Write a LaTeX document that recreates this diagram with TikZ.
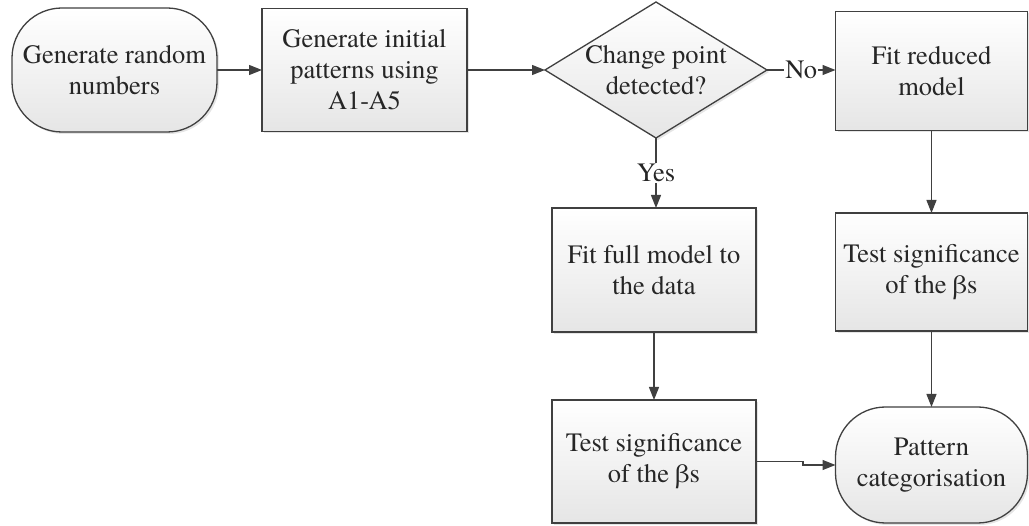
\documentclass[tikz,border=0pt]{standalone}
\usepackage{fontspec}
\IfFontExistsTF{texgyretermes-regular.otf}
  {\setmainfont{texgyretermes-regular.otf}}
  {\setmainfont{Liberation Serif}}
\newfontfamily\grkfont{Liberation Serif}
\newcommand{\mybeta}{\iffontchar\font"03B2 β\else{\grkfont β}\fi}
\usetikzlibrary{arrows.meta,shapes.geometric,shadows}
\definecolor{linec}{HTML}{404040}
\definecolor{textc}{HTML}{262626}
\begin{document}
\begin{tikzpicture}[x=1pt,y=-1pt,
  base/.style={draw=linec, line width=1.3pt, inner sep=0pt, outer sep=0pt,
    top color=white, bottom color=black!10, text=textc, align=center,
    font=\fontsize{26.5pt}{31pt}\selectfont,
    drop shadow={shadow xshift=2pt, shadow yshift=-2pt, fill=black!20, opacity=0.5}},
  procbox/.style={base, rectangle},
  termbox/.style={base, rectangle, rounded corners=50pt},
  decbox/.style={base, diamond},
  conn/.style={draw=linec, line width=1.3pt, -{Triangle[length=13pt,width=10pt]}},
  lbl/.style={fill=white, text=textc, inner sep=1pt, font=\fontsize{26.5pt}{31pt}\selectfont}
]
\useasboundingbox (0,0) rectangle (1029,526);

\node[termbox, minimum width=205pt, minimum height=124pt] (t1) at (114.5,70) {Generate random\\numbers};
\node[procbox, minimum width=205pt, minimum height=123pt] (b1) at (364.5,70) {Generate initial\\patterns using\\A1-A5};
\node[decbox, minimum width=222pt, minimum height=136pt] (d) at (656,70) {};
\node[text=textc, align=center, font=\fontsize{26.5pt}{31pt}\selectfont] (dt) at (d.center) {Change point\\detected?};
\node[procbox, minimum width=192pt, minimum height=119pt] (b2) at (931.5,71) {Fit reduced\\model};
\node[procbox, minimum width=204pt, minimum height=124pt] (b4) at (654,270) {Fit full model to\\the data};
\node[procbox, minimum width=192pt, minimum height=118pt] (b3) at (931.5,272) {Test significance\\of the \mybeta s};
\node[procbox, minimum width=204pt, minimum height=123pt] (b5) at (654,461.5) {Test significance\\of the \mybeta s};
\node[termbox, minimum width=192pt, minimum height=116pt] (t2) at (931.5,465) {Pattern\\categorisation};

\draw[conn] (t1.east) -- (b1.west);
\draw[conn] (b1.east) -- (d.west);
\draw[conn] (d.east) -- node[lbl] (no) {No} (d.east -| b2.west);
\draw[conn] (d.south) -- node[lbl] (yes) {Yes} (d.south |- b4.north);
\draw[conn] (b2.south) -- (b3.north);
\draw[conn] (b4.south) -- (b5.north);
\draw[conn] (b3.south) -- (t2.north);
\draw[conn] (b5.east) -- ++(47,0) |- (t2.west);
\end{tikzpicture}
\end{document}
